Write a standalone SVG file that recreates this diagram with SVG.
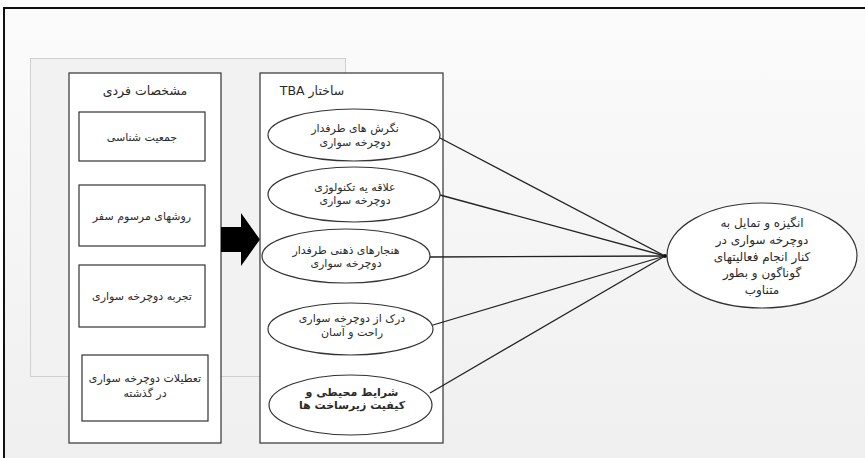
<svg xmlns="http://www.w3.org/2000/svg" width="865" height="458" viewBox="0 0 865 458">
<defs>
<linearGradient id="bg" x1="0" y1="0" x2="0" y2="1">
<stop offset="0" stop-color="#fbfbfb"/>
<stop offset="1" stop-color="#eeeeee"/>
</linearGradient>
<style>
.t{font-family:"DejaVu Sans",sans-serif;font-size:11px;fill:#2a2a2a;text-anchor:middle}
.h{font-size:12.5px}
.b{font-weight:bold}
.r{font-size:12px}
.rtl{direction:rtl}
.box{fill:#fff;stroke:#333;stroke-width:1.2}
.ell{fill:#fff;stroke:#333;stroke-width:1.2}
.ln{stroke:#222;stroke-width:1.3;fill:none}
</style>
</defs>
<rect x="0" y="0" width="865" height="458" fill="#fff"/>
<rect x="4" y="8" width="900" height="500" fill="url(#bg)" stroke="#111" stroke-width="2"/>
<rect id="panel" x="30.5" y="58.5" width="315" height="318" fill="#f2f2f2" stroke="#d0d0d0" stroke-width="1"/>

<g id="personal">
<rect class="box" x="69" y="73" width="152" height="370"/>
<text class="t h" x="145" y="95">مشخصات فردی</text>
</g>
<g id="demographics">
<rect class="box" x="79" y="112" width="126" height="49"/>
<text class="t" x="142" y="141">جمعیت شناسی</text>
</g>
<g id="travel">
<rect class="box" x="79" y="185" width="126" height="61"/>
<text class="t" x="142" y="220">روشهای مرسوم سفر</text>
</g>
<g id="experience">
<rect class="box" x="79" y="265" width="126" height="62"/>
<text class="t" x="142" y="300">تجربه دوچرخه سواری</text>
</g>
<g id="holidays">
<rect class="box" x="82" y="355" width="126" height="66"/>
<text class="t" x="145" y="382">تعطیلات دوچرخه سواری</text>
<text class="t" x="145" y="397">در گذشته</text>
</g>

<g id="arrow">
<polygon points="221,227 241,227 241,213 260,239.5 241,266 241,252 221,252" fill="#000"/>
</g>

<g id="tba">
<rect class="box" x="260" y="73" width="183" height="370"/>
<text class="t h rtl" x="312" y="95">ساختار TBA</text>
</g>

<g id="connectors">
<line class="ln" x1="440" y1="138" x2="665" y2="256"/>
<line class="ln" x1="440" y1="195" x2="665" y2="256"/>
<line class="ln" x1="430" y1="257" x2="665" y2="256"/>
<line class="ln" x1="433" y1="325" x2="665" y2="256"/>
<line class="ln" x1="430" y1="393" x2="665" y2="256"/>
<circle cx="665" cy="256" r="2" fill="#111"/>
</g>

<g id="attitudes">
<ellipse class="ell" cx="354" cy="135" rx="86" ry="26"/>
<text class="t" x="355" y="132">نگرش های طرفدار</text>
<text class="t" x="355" y="146">دوچرخه سواری</text>
</g>
<g id="technology">
<ellipse class="ell" cx="354" cy="194.5" rx="86" ry="27.5"/>
<text class="t" x="355" y="191">علاقه یه تکنولوژی</text>
<text class="t" x="355" y="204">دوچرخه سواری</text>
</g>
<g id="norms">
<ellipse class="ell" cx="346" cy="256" rx="84" ry="27"/>
<text class="t" x="346" y="254">هنجارهای ذهنی طرفدار</text>
<text class="t" x="346" y="267">دوچرخه سواری</text>
</g>
<g id="perception">
<ellipse class="ell" cx="350.5" cy="329" rx="82.5" ry="26"/>
<text class="t" x="352" y="322">درک از دوچرخه سواری</text>
<text class="t" x="352" y="336">راحت و آسان</text>
</g>
<g id="environment">
<ellipse class="ell" cx="350.5" cy="405" rx="81.5" ry="30"/>
<text class="t b" x="352" y="396">شرایط محیطی و</text>
<text class="t b" x="352" y="409">کیفیت زیرساخت ها</text>
</g>

<g id="motivation">
<ellipse class="ell" cx="762" cy="255.5" rx="95" ry="52.5"/>
<text class="t r" x="762" y="227">انگیزه و تمایل به</text>
<text class="t r" x="762" y="244">دوچرخه سواری در</text>
<text class="t r" x="762" y="261">کنار انجام فعالیتهای</text>
<text class="t r" x="762" y="277">گوناگون و بطور</text>
<text class="t r" x="762" y="294">متناوب</text>
</g>
</svg>
